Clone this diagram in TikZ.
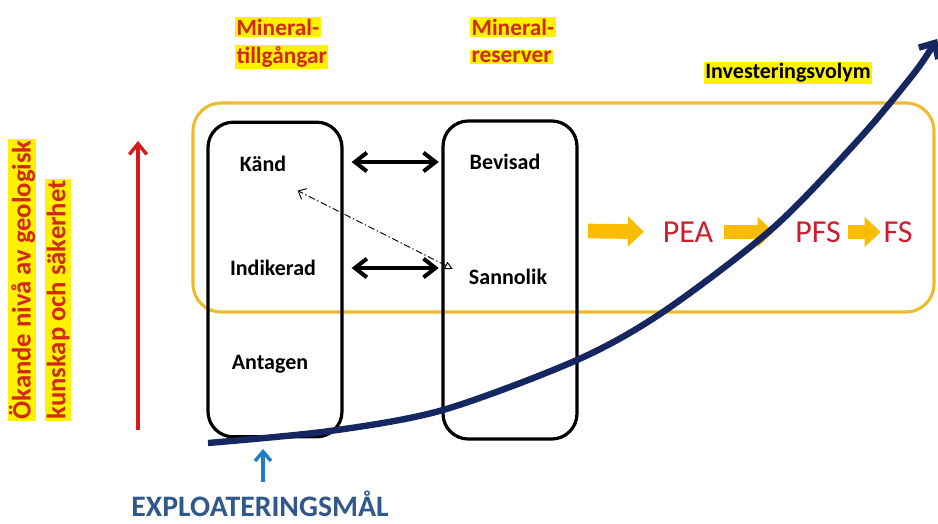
\documentclass[tikz,border=0pt]{standalone}
\usepackage{fontspec}
\setmainfont{Carlito}
\usetikzlibrary{arrows.meta}

\definecolor{hlred}{RGB}{210,40,25}
\definecolor{pearred}{RGB}{205,30,45}
\definecolor{navy}{RGB}{22,38,96}
\definecolor{goldline}{RGB}{236,188,45}
\definecolor{flowgold}{RGB}{250,188,0}
\definecolor{goalblue}{RGB}{30,125,195}
\definecolor{explblue}{RGB}{48,88,138}
\definecolor{riseRed}{RGB}{215,25,30}

\tikzset{
  hl/.style={fill=yellow, text=hlred, inner sep=1pt, font=\bfseries\fontsize{17.5}{19}\selectfont},
  vhl/.style={fill=yellow, text=hlred, inner sep=1pt, rotate=90, anchor=west, font=\bfseries\fontsize{20}{22}\selectfont},
  lbl/.style={inner sep=1pt, font=\bfseries\fontsize{16.5}{18}\selectfont},
  phase/.style={inner sep=0pt, text=pearred, font=\fontsize{24}{26}\selectfont},
  resbox/.style={draw, line width=2.4pt, rounded corners=19pt, minimum width=100.5pt},
  dbl/.style={line width=3pt, {Straight Barb[length=9pt,width=14pt]}-{Straight Barb[length=9pt,width=14pt]}},
  flow/.style={draw=flowgold, line width=11pt, -{Triangle[length=12pt,width=22pt]}},
}

\begin{document}
\begin{tikzpicture}[x=0.75pt,y=0.75pt,yscale=-1,xscale=1]
\useasboundingbox (0,0) rectangle (938,524);

%Shape: investment frame
\draw [goldline, line width=2.3pt, rounded corners=21pt] (193,103) rectangle (934,312);

%Shape: resource and reserve boxes
\node [resbox, minimum height=236pt] (tillg) at (275,279.5) {};
\node [resbox, minimum height=238.5pt] (reserv) at (510,280) {};

% Text Node
\node [hl, anchor=west] (min1) at (235,27) {Mineral-};
\node [hl, anchor=west] (tillgtxt) at (235,57) {tillgångar};
\node [hl, anchor=west] (min2) at (470,27) {Mineral-};
\node [hl, anchor=west] (resvtxt) at (470,57) {reserver};
\node [hl, text=black, font=\bfseries\fontsize{16.5}{18}\selectfont] (invest) at (788,73) {Investeringsvolym};

% Text Node
\node [lbl] (kand) at (263,164) {Känd};
\node [lbl] (indik) at (273,268) {Indikerad};
\node [lbl] (antag) at (270,364) {Antagen};
\node [lbl] (bevis) at (505,162) {Bevisad};
\node [lbl] (sannol) at (508,277) {Sannolik};

% Text Node
\node [vhl] (okande) at (22,421) {Ökande nivå av geologisk};
\node [vhl] (kunskap) at (58,421) {kunskap och säkerhet};

% Text Node
\node [phase] (pea) at (688,232) {PEA};
\node [phase] (pfs) at (818,232) {PFS};
\node [phase] (fs) at (898,232) {FS};

% Text Node
\node [inner sep=1pt, text=explblue, font=\bfseries\fontsize{22.3}{24}\selectfont] (explo) at (260,504) {EXPLOATERINGSMÅL};

%Straight Lines
\draw [dbl] ([xshift=6pt]tillg.east |- bevis) -- ([xshift=-2pt]reserv.west |- bevis);
\draw [dbl] ([xshift=6pt]tillg.east |- indik) -- ([xshift=-2pt]reserv.west |- indik);

%Straight Lines
\draw [line width=0.7pt, dash pattern={on 5pt off 2pt on 1pt off 2pt}, {Triangle[open,length=6pt,width=6pt]}-{Straight Barb[length=5pt,width=9pt]}]
  ([xshift=-11pt,yshift=-6pt]sannol.west) -- ([xshift=26pt,yshift=20pt]kand.center);

%Flow arrows
\coordinate (flowin) at (588,231);
\draw [flow, shorten >=14pt] (flowin) -- (pea.west);
\draw [flow, shorten <=8pt, shorten >=16pt] (pea.east) -- (pfs.west);
\draw [flow, shorten <=5pt, shorten >=2pt] (pfs.east) -- (fs.west);

%Curve: investment volume
\draw [navy, line width=4.8pt, -{Straight Barb[length=9pt,width=17pt]}]
  plot [smooth, tension=0.5] coordinates {(208,443) (330,431) (443,410) (577,360) (663,312) (773,228) (860,138) (915,72) (937,39)};

%Red arrow
\coordinate (risebot) at (138,430);
\coordinate (risetop) at (138,141);
\draw [riseRed, line width=2.6pt, -{Straight Barb[length=8pt,width=13pt]}] (risebot) -- (risetop);

%Blue arrow
\coordinate (goaltail) at (263,482);
\coordinate (goaltip) at (263,449);
\draw [goalblue, line width=2.6pt, -{Straight Barb[length=7pt,width=12pt]}] (goaltail) -- (goaltip);

\end{tikzpicture}
\end{document}
